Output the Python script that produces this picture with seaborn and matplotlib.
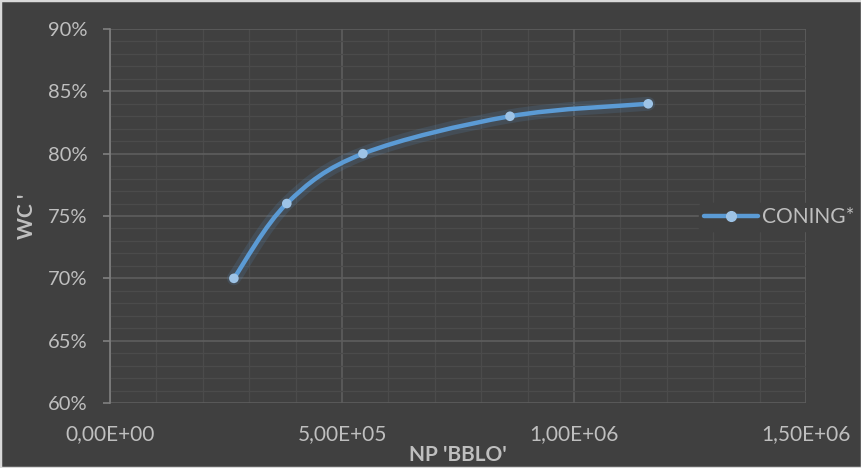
import matplotlib
matplotlib.use("Agg")
import matplotlib.pyplot as plt
import matplotlib.patheffects as pe
from matplotlib.path import Path
from matplotlib.patches import PathPatch
from matplotlib.ticker import MultipleLocator
from matplotlib.lines import Line2D
import numpy as np
import pandas as pd
import seaborn as sns

# ---- data ----
np_bblo = [2.67e5, 3.81e5, 5.45e5, 8.62e5, 1.16e6]
wc = [0.70, 0.76, 0.80, 0.83, 0.84]
series_name = "CONING*"
x_ticks = [0, 5e5, 1e6, 1.5e6]
x_tick_labels = ["0,00E+00", "5,00E+05", "1,00E+06", "1,50E+06"]
y_ticks = [0.60, 0.65, 0.70, 0.75, 0.80, 0.85, 0.90]
y_tick_labels = ["60%", "65%", "70%", "75%", "80%", "85%", "90%"]

BG = "#404040"
TXT = "#bfbfbf"
LINE = "#5b9bd5"
MARK = "#9dc3e6"

sns.set_theme(style="dark")
plt.rcParams["font.family"] = ["Lato", "DejaVu Sans"]

fig = plt.figure(figsize=(8.62, 4.68), dpi=100, facecolor=BG)
ax = fig.add_axes([110 / 862, 1 - 403 / 468, (806 - 110) / 862, (403 - 29) / 468])
ax.set_facecolor(BG)

ax.set_xlim(0, 1.5e6)
ax.set_ylim(0.60, 0.90)
ax.xaxis.set_minor_locator(MultipleLocator(1e5))
ax.yaxis.set_minor_locator(MultipleLocator(0.01))
ax.set_xticks(x_ticks)
ax.set_xticklabels(x_tick_labels)
ax.set_yticks(y_ticks)
ax.set_yticklabels(y_tick_labels)
ax.grid(which="major", color="#5e5e5e", linewidth=1.2)
ax.grid(which="minor", color="#4b4b4b", linewidth=0.9)
ax.set_axisbelow(True)

for s in ["top", "right", "bottom"]:
    ax.spines[s].set_visible(False)
ax.spines["left"].set_color("#808080")
ax.spines["left"].set_linewidth(1.2)

ax.tick_params(axis="y", which="major", length=5, width=1.2, color="#808080",
               labelsize=14.5, labelcolor=TXT, pad=11, left=True)
ax.tick_params(axis="y", which="minor", length=0)
ax.tick_params(axis="x", which="both", length=0, labelsize=15, labelcolor=TXT, pad=15)

# smooth curve (Excel-style Bezier smoothing) built from the data points
xs, ys = np.array(np_bblo), np.array(wc)
n = len(xs)
verts = [(xs[0], ys[0])]
codes = [Path.MOVETO]
for i in range(n - 1):
    p0 = np.array([xs[max(i - 1, 0)], ys[max(i - 1, 0)]])
    p1 = np.array([xs[i], ys[i]])
    p2 = np.array([xs[i + 1], ys[i + 1]])
    p3 = np.array([xs[min(i + 2, n - 1)], ys[min(i + 2, n - 1)]])
    c1 = p1 + (p2 - p0) / 6
    c2 = p2 - (p3 - p1) / 6
    verts += [tuple(c1), tuple(c2), tuple(p2)]
    codes += [Path.CURVE4] * 3
patch = PathPatch(Path(verts, codes), facecolor="none", edgecolor=LINE, lw=3.2,
                  capstyle="round", joinstyle="round", zorder=3,
                  path_effects=[pe.Stroke(linewidth=10, foreground=LINE, alpha=0.15),
                                pe.Normal()])
ax.add_patch(patch)

df = pd.DataFrame({"x": np_bblo, "y": wc})
sns.scatterplot(data=df, x="x", y="y", ax=ax, color=MARK, s=48, edgecolor="none",
                zorder=4, legend=False)

ax.set_xlabel("NP 'BBLO'", fontsize=15, fontweight="bold", color=TXT, labelpad=1)
ax.set_ylabel("WC '", fontsize=15, fontweight="bold", color=TXT, labelpad=8)

handle = Line2D([0], [0], color=LINE, lw=3.2, marker="o", markersize=7,
                markerfacecolor=MARK, markeredgecolor=MARK)
leg = fig.legend([handle], [series_name], loc="center left",
                 bbox_to_anchor=(689 / 862, 1 - 217 / 468), frameon=True,
                 facecolor=BG, edgecolor=BG, framealpha=1, fontsize=15,
                 handlelength=2.6, handletextpad=0.2, borderpad=0.2)
for t in leg.get_texts():
    t.set_color(TXT)

# light outer border
fig.add_artist(plt.Rectangle((0, 0), 1, 1, transform=fig.transFigure, fill=False,
                             edgecolor="#d9d9d9", linewidth=2.5, zorder=10))

fig.savefig("out.png", dpi=100, facecolor=BG)
